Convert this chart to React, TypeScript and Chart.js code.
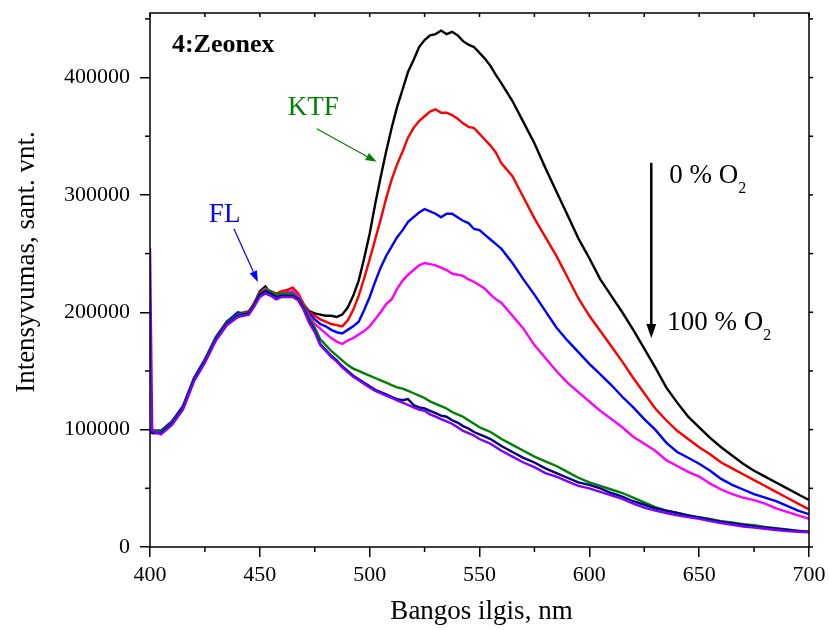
import { useEffect, useRef } from "react";
import { Chart, registerables } from "chart.js";

Chart.register(...registerables);

// wavelength grid, nm (finer in the FL / KTF peak region)
const WAVELENGTHS = [
  400, 401, 405, 410, 415, 420, 425, 430, 435,
  440, 442.5, 445, 447.5, 450, 452.5, 455, 457.5, 460, 462.5,
  465, 467.5, 470, 472.5, 475, 477.5, 480, 482.5, 485, 487.5,
  490, 492.5, 495, 497.5, 500, 502.5, 505, 507.5, 510, 512.5,
  515, 517.5, 520, 522.5, 525, 527.5, 530, 532.5, 535, 537.5,
  540, 542.5, 545, 547.5, 550, 552.5, 555, 557.5, 560,
  565, 570, 575, 580, 585, 590, 595, 600, 605, 610, 615, 620, 625, 630,
  635, 640, 645, 650, 655, 660, 665, 670, 675, 680, 685, 690, 695, 700,
];

// intensities in thousands of a.u.
const UNIT = 1000;
const BLACK = [
  100, 99, 98, 106, 119, 143, 159, 178, 191,
  198, 199, 200, 208, 218, 222, 216, 214, 216, 217,
  217, 214, 206, 201, 199, 198, 197, 197, 196, 198,
  204, 214, 227, 246, 267, 292, 315, 337, 357, 375,
  390, 405, 415, 426, 432, 436, 437, 440, 437, 439,
  436, 431, 428, 426, 421, 416, 410, 402, 395,
  380, 362, 344, 323, 303, 283, 263, 246, 228, 214, 200, 185, 169, 153,
  136, 123, 111, 102, 93, 85, 78, 71, 65, 60, 55, 50, 45, 40,
];
const RED = [
  100, 99, 99, 107, 120, 143, 159, 178, 192,
  198, 200, 201, 208, 217, 220, 218, 216, 218, 219,
  221, 216, 207, 200, 197, 194, 192, 190, 189, 188,
  193, 202, 214, 229, 245, 262, 279, 297, 313, 326,
  337, 349, 357, 363, 367, 371, 373, 370, 370, 368,
  365, 361, 358, 357, 352, 347, 342, 336, 327,
  316, 298, 280, 264, 248, 230, 212, 197, 184, 171, 158, 144, 131, 118,
  108, 99, 92, 85, 79, 72, 67, 62, 57, 52, 47, 42, 37, 32,
];
const BLUE = [
  99, 99, 99, 107, 120, 144, 160, 179, 192,
  200, 199, 200, 207, 216, 219, 216, 213, 215, 216,
  216, 213, 205, 199, 194, 190, 188, 185, 183, 182,
  185, 188, 192, 202, 213, 226, 238, 248, 256, 264,
  270, 277, 281, 285, 288, 286, 284, 281, 284, 284,
  281, 278, 276, 271, 270, 266, 262, 258, 254,
  242, 228, 215, 201, 187, 176, 166, 156, 147, 138, 128, 119, 109, 100,
  89, 81, 76, 71, 65, 58, 53, 49, 45, 42, 39, 35, 31, 28,
];
const MAGENTA = [
  98, 97, 97, 106, 118, 142, 158, 177, 190,
  197, 198, 199, 207, 216, 220, 217, 214, 216, 217,
  218, 214, 205, 197, 190, 186, 182, 178, 175, 173,
  176, 178, 181, 184, 188, 194, 200, 207, 211, 220,
  227, 232, 236, 240, 242, 241, 240, 238, 236, 233,
  232, 231, 228, 226, 223, 220, 215, 211, 208,
  197, 186, 172, 161, 150, 140, 132, 124, 116, 109, 102, 94, 88, 82,
  74, 69, 64, 60, 54, 49, 45, 42, 40, 37, 33, 30, 27, 24,
];
const GREEN = [
  99, 99, 98, 106, 119, 143, 159, 178, 191,
  198, 199, 200, 207, 216, 219, 218, 215, 216, 216,
  216, 212, 205, 195, 187, 177, 172, 167, 163, 159,
  155, 152, 150, 148, 146, 144, 142, 140, 138, 136,
  135, 133, 131, 129, 127, 124, 122, 120, 118, 115,
  113, 111, 108, 105, 102, 100, 98, 95, 92,
  87, 82, 77, 73, 69, 64, 59, 55, 52, 49, 46, 42, 38, 34,
  31, 29, 27, 25.5, 24, 22, 21, 19.5, 18.5, 17, 16, 15, 14, 13,
];
const NAVY = [
  98, 97, 97, 105, 118, 142, 158, 177, 190,
  197, 198, 199, 206, 215, 218, 216, 213, 214, 214,
  214, 211, 203, 192, 184, 173, 168, 163, 159, 154,
  150, 146, 143, 140, 137, 134, 132, 130, 128, 126,
  125, 126, 121, 119, 118, 116, 114, 112, 111, 108,
  106, 103, 101, 98, 96, 94, 92, 89, 86,
  81, 76, 72, 67, 63, 59, 55, 53, 50, 46, 43, 39, 36, 33,
  31, 29, 27, 25, 23, 21.5, 20, 19, 17.5, 16.5, 15.5, 14.5, 13.5, 13,
];
const VIOLET = [
  255, 99, 96, 104, 117, 141, 157, 176, 189,
  196, 197, 198, 205, 213, 216, 214, 211, 213, 213,
  213, 210, 202, 191, 183, 172, 167, 162, 158, 153,
  149, 145, 142, 139, 136, 133, 131, 129, 127, 125,
  123, 121, 119, 117, 116, 113, 111, 109, 107, 105,
  102, 99, 97, 95, 92, 90, 88, 85, 82,
  77, 72, 68, 63, 60, 56, 52, 50, 47, 44, 41, 37, 33.5, 31,
  29, 27, 25.5, 24, 22, 20.5, 19, 17.5, 16.5, 15.5, 14.5, 13.5, 13, 12.5,
];

const X_TICKS = [400, 450, 500, 550, 600, 650, 700];
const X_MINOR = [425, 475, 525, 575, 625, 675];
const Y_TICKS = [0, 100000, 200000, 300000, 400000];
const Y_MINOR = [50000, 150000, 250000, 350000, 450000];
const X_MIN = 400, X_MAX = 700, Y_MIN = 0, Y_MAX = 455000;

const SERIES = [
  { name: "violet", values: VIOLET, color: "#8000ff" },
  { name: "navy", values: NAVY, color: "#000080" },
  { name: "green", values: GREEN, color: "#008000" },
  { name: "magenta", values: MAGENTA, color: "#ff00ff" },
  { name: "blue", values: BLUE, color: "#0000ff" },
  { name: "red", values: RED, color: "#ff0000" },
  { name: "black", values: BLACK, color: "#000000" },
];

const FONT = '"Liberation Serif", "Times New Roman", serif';

function arrow(ctx: CanvasRenderingContext2D, x1: number, y1: number, x2: number, y2: number, color: string, lw: number, hl: number, hw: number) {
  const ang = Math.atan2(y2 - y1, x2 - x1);
  const bx = x2 - hl * Math.cos(ang);
  const by = y2 - hl * Math.sin(ang);
  ctx.strokeStyle = color;
  ctx.fillStyle = color;
  ctx.lineWidth = lw;
  ctx.beginPath();
  ctx.moveTo(x1, y1);
  ctx.lineTo(bx, by);
  ctx.stroke();
  ctx.beginPath();
  ctx.moveTo(x2, y2);
  ctx.lineTo(bx + hw * Math.sin(ang), by - hw * Math.cos(ang));
  ctx.lineTo(bx - hw * Math.sin(ang), by + hw * Math.cos(ang));
  ctx.closePath();
  ctx.fill();
}

const decor = {
  id: "decor",
  afterDraw(chart: any) {
    const { ctx, chartArea: a, scales } = chart;
    const x = scales.x, y = scales.y;
    const P = (nm: number, v: number) => [x.getPixelForValue(nm), y.getPixelForValue(v)];
    ctx.save();
    ctx.strokeStyle = "#000";
    ctx.lineWidth = 1.5;
    ctx.strokeRect(a.left, a.top, a.right - a.left, a.bottom - a.top);
    const seg = (x1: number, y1: number, x2: number, y2: number) => {
      ctx.beginPath(); ctx.moveTo(x1, y1); ctx.lineTo(x2, y2); ctx.stroke();
    };
    X_MINOR.forEach((v) => { const px = x.getPixelForValue(v); seg(px, a.bottom, px, a.bottom + 5); });
    Y_MINOR.forEach((v) => { const py = y.getPixelForValue(v); seg(a.left - 5, py, a.left, py); });
    [...X_TICKS, ...X_MINOR].forEach((v) => { const px = x.getPixelForValue(v); seg(px, a.top, px, a.top + 4); });
    [...Y_TICKS, ...Y_MINOR].forEach((v) => { const py = y.getPixelForValue(v); seg(a.right, py, a.right + 4, py); });

    // axis titles
    ctx.fillStyle = "#000";
    ctx.font = `27px ${FONT}`;
    ctx.textAlign = "center";
    ctx.textBaseline = "middle";
    ctx.fillText("Bangos ilgis, nm", (a.left + a.right) / 2 + 2, 612);
    ctx.save();
    ctx.translate(27, 262);
    ctx.rotate(-Math.PI / 2);
    ctx.fillText("Intensyvumas, sant. vnt.", 0, 0);
    ctx.restore();

    // annotations
    ctx.textAlign = "left";
    ctx.textBaseline = "alphabetic";
    ctx.font = `bold 26px ${FONT}`;
    let [tx, ty] = P(410, 422000);
    ctx.fillText("4:Zeonex", tx, ty);

    ctx.font = `27px ${FONT}`;
    ctx.fillStyle = "#008000";
    [tx, ty] = P(462.7, 368300);
    ctx.fillText("KTF", tx, ty);
    let [ax1, ay1] = P(475.9, 356300);
    let [ax2, ay2] = P(503.2, 328200);
    arrow(ctx, ax1, ay1, ax2, ay2, "#008000", 1.2, 11, 4);

    ctx.fillStyle = "#0000ff";
    [tx, ty] = P(426.8, 277100);
    ctx.fillText("FL", tx, ty);
    [ax1, ay1] = P(438.2, 271100);
    [ax2, ay2] = P(449.1, 225900);
    arrow(ctx, ax1, ay1, ax2, ay2, "#0000ff", 1.2, 11, 4);

    [ax1, ay1] = P(628.2, 327400);
    [ax2, ay2] = P(628.2, 178100);
    arrow(ctx, ax1, ay1, ax2, ay2, "#000", 2.5, 14, 5);

    ctx.fillStyle = "#000";
    const o2 = (label: string, nm: number, v: number) => {
      const [lx, ly] = P(nm, v);
      ctx.font = `27px ${FONT}`;
      ctx.fillText(label, lx, ly);
      const w = ctx.measureText(label).width;
      ctx.font = `16px ${FONT}`;
      ctx.fillText("2", lx + w, ly + 10);
    };
    o2("0 % O", 636.4, 310300);
    o2("100 % O", 635.5, 184900);
    ctx.restore();
  },
};

export default function App() {
  const ref = useRef<HTMLCanvasElement | null>(null);
  useEffect(() => {
    if (!ref.current) return;
    const chart = new Chart(ref.current, {
      type: "line",
      data: {
        datasets: SERIES.map((s) => ({
          label: s.name,
          data: WAVELENGTHS.map((w, i) => ({ x: w, y: s.values[i] * UNIT })),
          borderColor: s.color,
          backgroundColor: s.color,
          borderWidth: 2.4,
          pointRadius: 0,
          tension: 0,
          fill: false,
        })),
      },
      options: {
        animation: false,
        responsive: false,
        devicePixelRatio: 1,
        layout: { padding: { top: 13, right: 20, left: 0, bottom: 0 } },
        plugins: { legend: { display: false }, tooltip: { enabled: false } },
        scales: {
          x: {
            type: "linear",
            min: X_MIN,
            max: X_MAX,
            afterBuildTicks: (s: any) => { s.ticks = X_TICKS.map((v) => ({ value: v })); },
            afterFit: (s: any) => { s.height = 83; s.paddingLeft = 0; s.paddingRight = 0; },
            grid: { display: true, drawOnChartArea: false, tickLength: 10, color: "#000", lineWidth: 1.5 },
            border: { display: false },
            ticks: {
              color: "#000",
              font: { family: FONT, size: 22 },
              padding: 5,
              maxRotation: 0,
              callback: (v: any) => String(v),
            },
          },
          y: {
            type: "linear",
            min: Y_MIN,
            max: Y_MAX,
            afterBuildTicks: (s: any) => { s.ticks = Y_TICKS.map((v) => ({ value: v })); },
            afterFit: (s: any) => { s.width = 150; s.paddingTop = 0; s.paddingBottom = 0; },
            grid: { display: true, drawOnChartArea: false, tickLength: 10, color: "#000", lineWidth: 1.5 },
            border: { display: false },
            ticks: {
              color: "#000",
              font: { family: FONT, size: 22 },
              padding: 10,
              callback: (v: any) => String(v),
            },
          },
        },
      },
      plugins: [decor],
    } as any);
    return () => chart.destroy();
  }, []);
  return (
    <div style={{ position: "fixed", left: 0, top: 0, width: 829, height: 630, background: "#fff" }}>
      <canvas ref={ref} width={829} height={630} style={{ display: "block" }} />
    </div>
  );
}
